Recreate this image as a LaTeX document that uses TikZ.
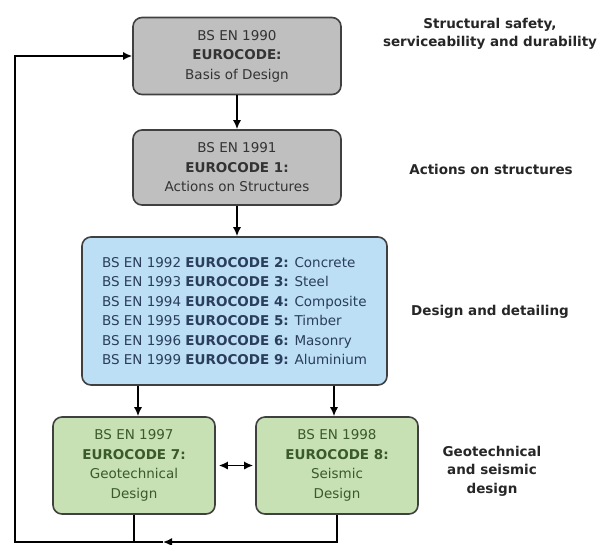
\documentclass[tikz,border=0pt]{standalone}
\usepackage{fontspec}
\setmainfont{DejaVu Sans}
\usetikzlibrary{arrows.meta}
\definecolor{codegray}{HTML}{BFBFBF}
\definecolor{codeblue}{HTML}{BCDFF6}
\definecolor{codegreen}{HTML}{C7E1B5}
\definecolor{boxline}{HTML}{404040}
\definecolor{bluetext}{HTML}{2A3D5A}
\definecolor{greentext}{HTML}{3A5A2A}

\begin{document}
\begin{tikzpicture}[
  x=1pt, y=-1pt,
  code/.style={draw=boxline, line width=1.6pt, rounded corners=9pt, align=center,
    inner sep=3pt, font=\fontsize{13.5}{19.5}\selectfont, text=black!80},
  part/.style={font=\bfseries\fontsize{13.5}{18.5}\selectfont, align=center, text=black!85},
  arr/.style={-{Latex[length=9pt, width=8pt]}, line width=1.5pt, black},
  line/.style={line width=1.5pt, black}
]
\useasboundingbox (0,0) rectangle (601,544);
\node[code, fill=codegray, minimum width=208pt, minimum height=77pt] (bod) at (237,56)
  {BS EN 1990\\ \textbf{EUROCODE:}\\ Basis of Design};
\node[code, fill=codegray, minimum width=208pt, minimum height=75pt] (ec1) at (237,167.5)
  {BS EN 1991\\ \textbf{EUROCODE 1:}\\ Actions on Structures};
\node[code, fill=codeblue, minimum width=305pt, minimum height=148pt, align=left,
  text=bluetext] (ec2) at (234.5,311)
  {BS EN 1992 \textbf{EUROCODE 2:} Concrete\\
   BS EN 1993 \textbf{EUROCODE 3:} Steel\\
   BS EN 1994 \textbf{EUROCODE 4:} Composite\\
   BS EN 1995 \textbf{EUROCODE 5:} Timber\\
   BS EN 1996 \textbf{EUROCODE 6:} Masonry\\
   BS EN 1999 \textbf{EUROCODE 9:} Aluminium};
\node[code, fill=codegreen, minimum width=162pt, minimum height=97pt, text=greentext] (ec7) at (134,465.5)
  {BS EN 1997\\ \textbf{EUROCODE 7:}\\ Geotechnical\\ Design};
\node[code, fill=codegreen, minimum width=162pt, minimum height=97pt, text=greentext] (ec8) at (337,465.5)
  {BS EN 1998\\ \textbf{EUROCODE 8:}\\ Seismic\\ Design};
% what each level covers
\node[part] (safety) at (490,34) {Structural safety,\\ serviceability and durability};
\node[part] (actions) at (491,169) {Actions on structures};
\node[part] (detail) at (490,312) {Design and detailing};
\node[part] (geo) at (492,471) {Geotechnical\\ and seismic\\ design};
% loop back along the bottom
\coordinate (back) at (15,542);
\coordinate (mid) at (163,542);
\draw[arr] (bod) -- (ec1);
\draw[arr] (ec1) -- (ec1 |- ec2.north);
\draw[arr] ([xshift=4pt]ec2.south -| ec7) -- ([xshift=4pt]ec7.north);
\draw[arr] ([xshift=-3pt]ec2.south -| ec8) -- ([xshift=-3pt]ec8.north);
\draw[arr, {Latex[length=9pt, width=8pt]}-{Latex[length=9pt, width=8pt]}, shorten <=3pt, shorten >=2pt] (ec7) -- (ec8);
\draw[line] (ec7) -- (ec7 |- back);
\draw[arr] (ec8) |- (mid);
\draw[arr] (mid) -- (back) |- (bod);
\end{tikzpicture}
\end{document}
